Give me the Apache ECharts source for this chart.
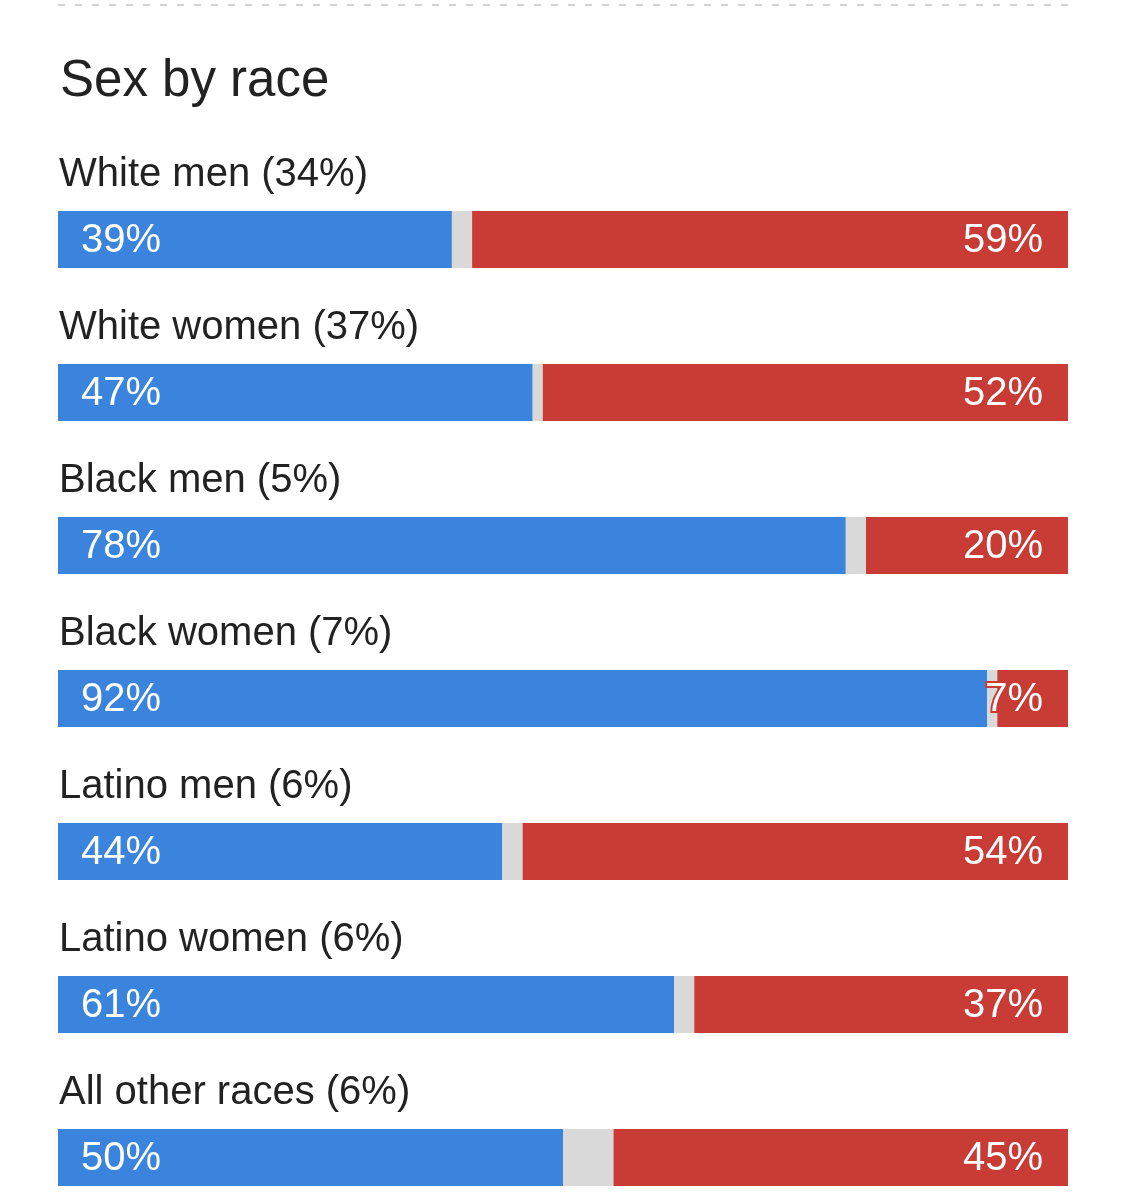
<!DOCTYPE html>
<html>
<head>
<meta charset="utf-8">
<style>
  html, body { margin: 0; padding: 0; background: #ffffff; }
  #chart { width: 1126px; height: 1200px; }
</style>
<script src="https://cdn.jsdelivr.net/npm/echarts@6/dist/echarts.min.js"></script>
</head>
<body>
<div id="chart"></div>
<script>
const categories = ['White men (34%)', 'White women (37%)', 'Black men (5%)', 'Black women (7%)', 'Latino men (6%)', 'Latino women (6%)', 'All other races (6%)'];
const demValues = [39, 47, 78, 92, 44, 61, 50];
const otherValues = [2, 1, 2, 1, 2, 2, 5];
const repValues = [59, 52, 20, 7, 54, 37, 45];

const FONT = '"Liberation Sans", Arial, Helvetica, sans-serif';
const chart = echarts.init(document.getElementById('chart'), null, { renderer: 'canvas' });

chart.setOption({
  animation: false,
  backgroundColor: '#ffffff',
  title: {
    text: 'Sex by race',
    left: 55,
    top: 51,
    textStyle: { fontFamily: FONT, fontSize: 51, fontWeight: 'normal', color: '#222222' }
  },
  graphic: [{
    type: 'line',
    shape: { x1: 58, y1: 5, x2: 1068, y2: 5 },
    style: { stroke: '#c4c4c4', lineWidth: 1.5, lineDash: [7, 10] },
    silent: true
  }],
  grid: { left: 58, right: 58, top: 239.5, bottom: 42.5, containLabel: false },
  xAxis: { type: 'value', min: 0, max: 100, show: false },
  yAxis: { type: 'category', data: categories, inverse: true, show: false, boundaryGap: false },
  series: [
    {
      name: 'Dem', type: 'bar', stack: 'total', data: demValues, barWidth: 57,
      itemStyle: { color: '#3b84dd' },
      label: {
        show: true, position: 'insideLeft', distance: 23, offset: [0, 1], formatter: '{c}%',
        color: '#ffffff', fontFamily: FONT, fontSize: 40
      }
    },
    {
      name: 'Other', type: 'bar', stack: 'total', data: otherValues, barWidth: 57,
      itemStyle: { color: '#d9d9d9' }
    },
    {
      name: 'Rep', type: 'bar', stack: 'total', data: repValues, barWidth: 57,
      itemStyle: { color: '#c93b35' },
      label: {
        show: true, position: 'insideRight', distance: 25, offset: [0, 1], formatter: '{c}%',
        color: '#ffffff', fontFamily: FONT, fontSize: 40,
        textBorderColor: '#c93b35', textBorderWidth: 4
      }
    },
    {
      name: 'labels', type: 'scatter', symbolSize: 0, silent: true,
      itemStyle: { opacity: 1 },
      data: categories.map(function (c) { return [0, c]; }),
      label: {
        show: true, position: 'right', distance: 0, offset: [1, -65],
        formatter: function (p) { return p.value[1]; },
        color: '#222222', fontFamily: FONT, fontSize: 40
      },
      z: 5
    }
  ]
});
</script>
</body>
</html>
